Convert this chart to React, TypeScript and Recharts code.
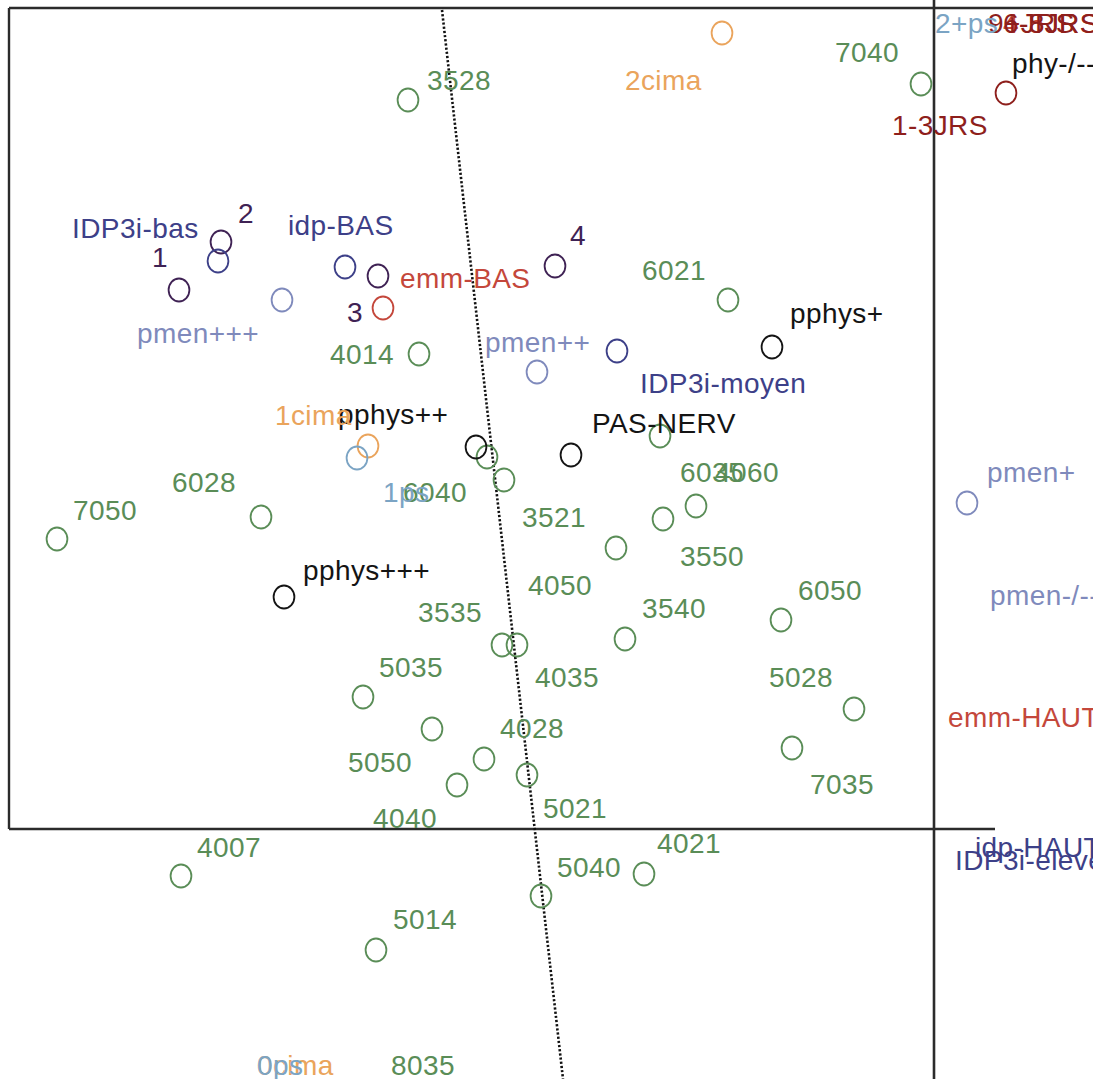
import React from "react";
import { ScatterChart, Scatter, XAxis, YAxis, ReferenceLine } from "recharts";

// ---- circles (point positions in factor-plane units) ----
const greenPoints = [
  { x: -5.26, y: 7.29 }, { x: -0.13, y: 7.45 }, { x: -2.06, y: 5.29 }, { x: -5.15, y: 4.75 },
  { x: -2.74, y: 3.93 }, { x: -4.47, y: 3.72 }, { x: -4.3, y: 3.49 }, { x: -8.77, y: 2.9 },
  { x: -6.73, y: 3.12 }, { x: -2.38, y: 3.23 }, { x: -2.71, y: 3.1 }, { x: -3.18, y: 2.81 },
  { x: -1.53, y: 2.09 }, { x: -3.09, y: 1.9 }, { x: -4.32, y: 1.84 }, { x: -4.17, y: 1.84 },
  { x: -5.71, y: 1.32 }, { x: -5.02, y: 1.0 }, { x: -0.8, y: 1.2 }, { x: -1.42, y: 0.81 },
  { x: -4.5, y: 0.7 }, { x: -4.77, y: 0.44 }, { x: -4.07, y: 0.54 }, { x: -7.53, y: -0.47 },
  { x: -3.93, y: -0.67 }, { x: -2.9, y: -0.45 }, { x: -5.58, y: -1.21 },
];
const blackPoints = [
  { x: -1.62, y: 4.82 }, { x: -3.63, y: 3.74 }, { x: -4.58, y: 3.82 }, { x: -6.5, y: 2.32 },
];
const purplePoints = [
  { x: -7.13, y: 5.87 }, { x: -7.55, y: 5.39 }, { x: -5.56, y: 5.53 }, { x: -3.79, y: 5.63 },
];
const navyPoints = [{ x: -7.16, y: 5.68 }, { x: -5.89, y: 5.62 }, { x: -3.17, y: 4.78 }];
const slatePoints = [{ x: -6.52, y: 5.29 }, { x: -3.97, y: 4.57 }, { x: 0.33, y: 3.26 }];
const redPoints = [{ x: -5.51, y: 5.21 }];
const darkRedPoints = [{ x: 0.72, y: 7.36 }];
const orangePoints = [{ x: -2.12, y: 7.96 }, { x: -5.66, y: 3.83 }];
const steelPoints = [{ x: -5.77, y: 3.71 }];

// ---- labels (anchor = start of text, baseline) ----
const greenLabels = [
  { name: "3528", x: -5.07, y: 7.39 }, { name: "7040", x: -0.99, y: 7.67 },
  { name: "6021", x: -2.92, y: 5.49 }, { name: "4014", x: -6.04, y: 4.65 },
  { name: "6035", x: -2.54, y: 3.47 }, { name: "4060", x: -2.19, y: 3.47 },
  { name: "6040", x: -5.31, y: 3.27 }, { name: "3521", x: -4.12, y: 3.02 },
  { name: "3550", x: -2.54, y: 2.63 }, { name: "6028", x: -7.62, y: 3.37 },
  { name: "7050", x: -8.61, y: 3.09 }, { name: "4050", x: -4.06, y: 2.34 },
  { name: "3535", x: -5.16, y: 2.07 }, { name: "3540", x: -2.92, y: 2.11 },
  { name: "6050", x: -1.36, y: 2.29 }, { name: "5035", x: -5.55, y: 1.52 },
  { name: "4035", x: -3.99, y: 1.42 }, { name: "5028", x: -1.65, y: 1.42 },
  { name: "4028", x: -4.34, y: 0.91 }, { name: "5050", x: -5.86, y: 0.57 },
  { name: "7035", x: -1.24, y: 0.35 }, { name: "5021", x: -3.91, y: 0.11 },
  { name: "4040", x: -5.61, y: 0.01 }, { name: "4007", x: -7.37, y: -0.28 },
  { name: "5040", x: -3.77, y: -0.48 }, { name: "4021", x: -2.77, y: -0.24 },
  { name: "5014", x: -5.41, y: -1.0 }, { name: "8035", x: -5.43, y: -2.46 },
];
const blackLabels = [
  { name: "pphys+", x: -1.44, y: 5.06 }, { name: "PAS-NERV", x: -3.42, y: 3.96 },
  { name: "pphys++", x: -5.96, y: 4.05 }, { name: "pphys+++", x: -6.31, y: 2.49 },
  { name: "phy-/--", x: 0.78, y: 7.56 },
];
const purpleLabels = [
  { name: "1", x: -7.82, y: 5.62 }, { name: "2", x: -6.96, y: 6.06 },
  { name: "3", x: -5.87, y: 5.07 }, { name: "4", x: -3.64, y: 5.84 },
];
const navyLabels = [
  { name: "IDP3i-bas", x: -8.62, y: 5.91 }, { name: "idp-BAS", x: -6.46, y: 5.94 },
  { name: "IDP3i-moyen", x: -2.94, y: 4.36 }, { name: "idp-HAUT", x: 0.41, y: -0.28 },
  { name: "IDP3i-eleve", x: 0.21, y: -0.41 },
];
const slateLabels = [
  { name: "pmen+++", x: -7.97, y: 4.86 }, { name: "pmen++", x: -4.49, y: 4.77 },
  { name: "pmen+", x: 0.53, y: 3.47 }, { name: "pmen-/--", x: 0.56, y: 2.24 },
];
const redLabels = [
  { name: "emm-BAS", x: -5.34, y: 5.41 }, { name: "emm-HAUT", x: 0.14, y: 1.02 },
  { name: "4-5JRS", x: 0.69, y: 7.96 },
];
const darkRedLabels = [
  { name: "1-3JRS", x: -0.42, y: 6.94 }, { name: "9+JRS", x: 0.54, y: 7.96 },
  { name: "6-8JRS", x: 0.69, y: 7.96 },
];
const orangeLabels = [
  { name: "1cima", x: -6.59, y: 4.04 }, { name: "2cima", x: -3.09, y: 7.39 },
  { name: "0cima", x: -6.77, y: -2.46 },
];
const steelLabels = [
  { name: "1ps", x: -5.51, y: 3.27 }, { name: "2+ps", x: 0.01, y: 7.96 },
  { name: "0ps", x: -6.77, y: -2.46 },
];

// ---- frame / reference lines (data units) ----
const xDomain = [-9.34, 1.59];
const yDomain = [-2.5, 8.29];
const frameTop = [{ x: -9.25, y: 8.21 }, { x: 1.59, y: 8.21 }];
const frameLeft = [{ x: -9.25, y: 8.21 }, { x: -9.25, y: 0 }];
const axisH = [{ x: -9.25, y: 0 }, { x: 0.61, y: 0 }];
const dottedAxis = [{ x: -4.92, y: 8.19 }, { x: -3.71, y: -2.5 }];

const FONT = "'Liberation Sans', Arial, Helvetica, sans-serif";

const circleShape = (color: string) => (props: any) => {
  const { cx, cy } = props;
  if (cx == null || cy == null) return <g />;
  return <ellipse cx={cx} cy={cy} rx={10.4} ry={11.5} fill="none" stroke={color} strokeWidth={1.8} />;
};

const labelShape = (color: string) => (props: any) => {
  const { cx, cy, payload } = props;
  if (cx == null || cy == null) return <g />;
  return (
    <text x={cx} y={cy} fill={color} fontSize={28} letterSpacing={0.4} fontFamily={FONT}>
      {payload.name}
    </text>
  );
};

const groups = [
  { key: "green", pts: greenPoints, labels: greenLabels, color: "#5a8d57" },
  { key: "black", pts: blackPoints, labels: blackLabels, color: "#141414" },
  { key: "purple", pts: purplePoints, labels: purpleLabels, color: "#3f2254" },
  { key: "navy", pts: navyPoints, labels: navyLabels, color: "#3d4088" },
  { key: "slate", pts: slatePoints, labels: slateLabels, color: "#7f8abc" },
  { key: "red", pts: redPoints, labels: redLabels, color: "#c4473b" },
  { key: "darkred", pts: darkRedPoints, labels: darkRedLabels, color: "#8e1f1c" },
  { key: "orange", pts: orangePoints, labels: orangeLabels, color: "#eaa45c" },
  { key: "steel", pts: steelPoints, labels: steelLabels, color: "#7ba4c4" },
];

export default function App() {
  return (
    <div style={{ position: "absolute", left: 0, top: 0, width: 1093, height: 1079, background: "#fff", overflow: "hidden" }}>
      <ScatterChart width={1093} height={1079} margin={{ top: 0, right: 0, bottom: 0, left: 0 }}>
        <XAxis type="number" dataKey="x" domain={xDomain} hide allowDataOverflow />
        <YAxis type="number" dataKey="y" domain={yDomain} hide allowDataOverflow />
        <ReferenceLine segment={frameTop} stroke="#2b2b2b" strokeWidth={2.4} ifOverflow="visible" />
        <ReferenceLine segment={frameLeft} stroke="#2b2b2b" strokeWidth={2.4} ifOverflow="visible" />
        <ReferenceLine segment={axisH} stroke="#2b2b2b" strokeWidth={2.4} ifOverflow="visible" />
        <ReferenceLine x={0} stroke="#2b2b2b" strokeWidth={2.6} ifOverflow="visible" />
        <ReferenceLine segment={dottedAxis} stroke="#111" strokeWidth={2.6} strokeDasharray="2.2 2" ifOverflow="visible" />
        {groups.map((g) => (
          <Scatter
            key={g.key + "-pts"}
            data={g.pts}
            shape={circleShape(g.color)}
            isAnimationActive={false}
          />
        ))}
        {groups.map((g) => (
          <Scatter
            key={g.key + "-lbl"}
            data={g.labels}
            shape={labelShape(g.color)}
            isAnimationActive={false}
          />
        ))}
      </ScatterChart>
    </div>
  );
}
